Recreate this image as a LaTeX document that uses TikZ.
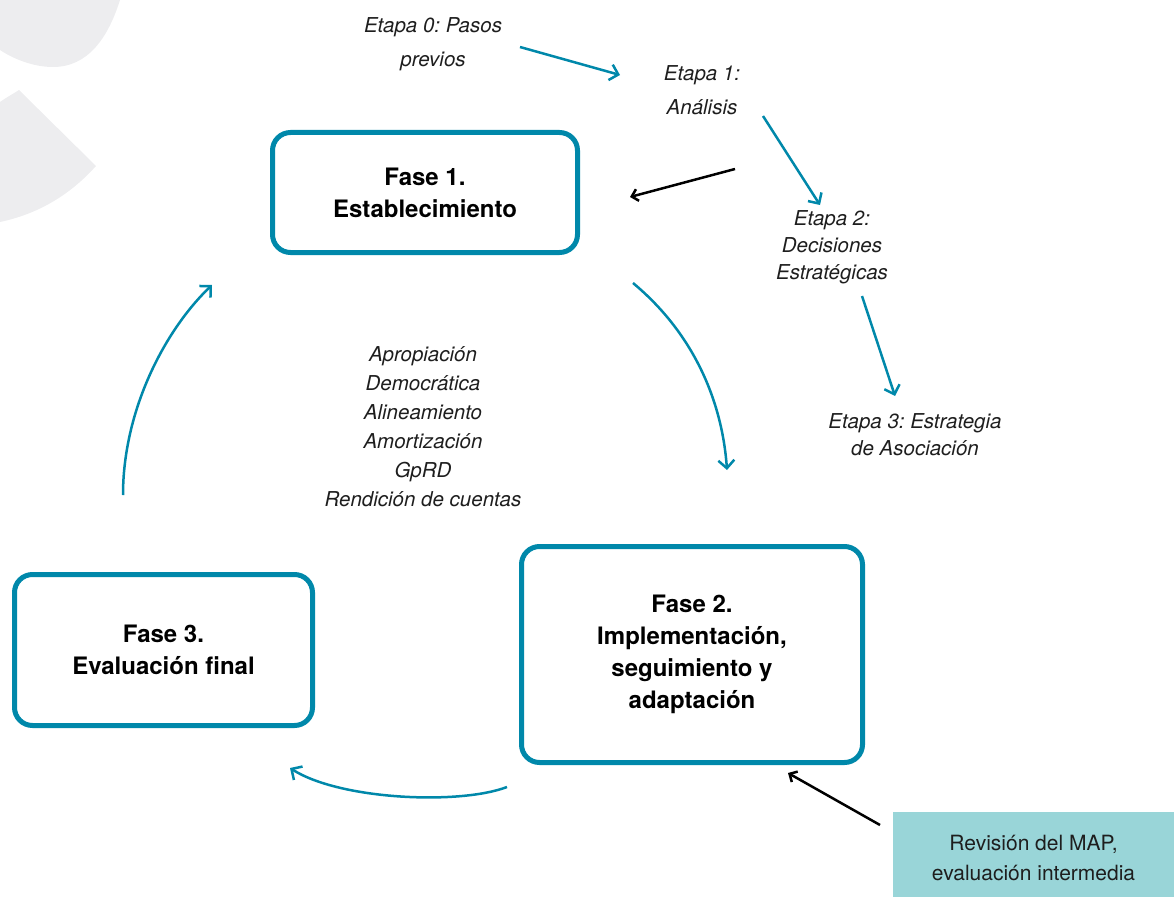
\documentclass[tikz,border=0pt]{standalone}
\usepackage{fontspec}
\setmainfont{TeX Gyre Heros}
\usetikzlibrary{arrows.meta}
\definecolor{azul}{RGB}{0,136,170}
\definecolor{celeste}{RGB}{153,213,216}
\definecolor{gris}{RGB}{237,237,239}
\definecolor{texto}{RGB}{30,30,30}
\frenchspacing
\tikzset{
  fase/.style={draw=azul, line width=5pt, rounded corners=18pt, align=center,
    text=black, font=\fontsize{24}{32}\selectfont\bfseries},
  etapa/.style={align=center, text=texto, font=\fontsize{20.5}{27}\selectfont\itshape},
  flecha/.style={draw=azul, line width=2.5pt, -{Straight Barb[length=8pt,width=16pt]}},
  flechanegra/.style={draw=black, line width=2.5pt, -{Straight Barb[length=6pt,width=12pt]}}
}
\begin{document}
\begin{tikzpicture}[x=1pt,y=-1pt]
        \useasboundingbox (0,0) rectangle (1174,896);
        % Fondo
        \fill[gris] (0,0) -- (120,0) .. controls (108,38) and (88,67) .. (53,67)
          .. controls (32,67) and (12,58) .. (0,50) -- cycle;
        \fill[gris] (0,102) .. controls (7,97) and (13,94) .. (19,90) -- (96,166)
          .. controls (70,195) and (38,214) .. (0,222) -- cycle;
        % Fases
        \node[fase, minimum width=305pt, minimum height=120pt] (fase1) at (425,192.5)
          {Fase 1.\\Establecimiento};
        \node[fase, minimum width=341pt, minimum height=216pt] (fase2) at (692,654.5)
          {Fase 2.\\Implementación,\\seguimiento y\\adaptación};
        \node[fase, minimum width=298pt, minimum height=151pt] (fase3) at (163.5,650)
          {Fase 3.\\Evaluación final};
        \node[fill=celeste, minimum width=281pt, minimum height=92pt, align=center,
          text=texto, font=\fontsize{21}{30}\selectfont] (revision) at (1033.5,858)
          {Revisión del MAP,\\evaluación intermedia};
        % Etapas
        \node[etapa, font=\fontsize{20.5}{34}\selectfont\itshape] (etapa0) at (433,44)
          {Etapa 0: Pasos\\previos};
        \node[etapa, font=\fontsize{20.5}{34}\selectfont\itshape] (etapa1) at (702,90.5)
          {Etapa 1:\\Análisis};
        \node[etapa] (etapa2) at (832,247.5) {Etapa 2:\\Decisiones\\Estratégicas};
        \node[etapa] (etapa3) at (915,434.5) {Etapa 3: Estrategia\\de Asociación};
        \node[etapa, font=\fontsize{20.5}{29}\selectfont\itshape] (principios) at (423,427)
          {Apropiación\\Democrática\\Alineamiento\\Amortización\\GpRD\\Rendición de cuentas};
        % Flechas
        \coordinate (e0a) at (520,47);   \coordinate (e0b) at (620,75);
        \coordinate (e1a) at (763,116);  \coordinate (e1b) at (820,205);
        \coordinate (e2a) at (862,296);  \coordinate (e2b) at (895,396);
        \coordinate (e1c) at (735,169);  \coordinate (f1e) at (630,197);
        \coordinate (f1a) at (633,283);  \coordinate (f2a) at (727,470);
        \coordinate (f2b) at (507,787);  \coordinate (f3a) at (290,768);
        \coordinate (f3b) at (123,495);  \coordinate (f1b) at (212,285);
        \coordinate (rva) at (880,825);  \coordinate (f2c) at (788,773);
        \draw[flecha] (e0a) -- (e0b);
        \draw[flecha] (e1a) -- (e1b);
        \draw[flecha] (e2a) -- (e2b);
        \draw[flechanegra] (e1c) -- (f1e);
        \draw[flecha] (f1a) .. controls (693,333) and (722,400) .. (f2a);
        \draw[flecha] (f2b) .. controls (460,805) and (340,800) .. (f3a);
        \draw[flecha] (f3b) .. controls (123,410) and (165,330) .. (f1b);
        \draw[flechanegra] (rva) -- (f2c);
\end{tikzpicture}
\end{document}
